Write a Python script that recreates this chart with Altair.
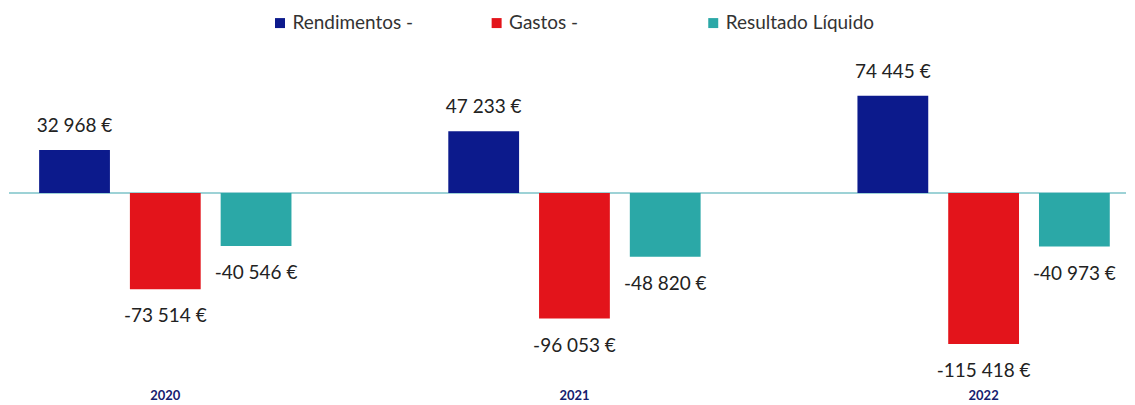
import altair as alt
import pandas as pd

years = ["2020", "2021", "2022"]
series = ["Rendimentos -", "Gastos -", "Resultado Líquido"]
rendimentos = [32968, 47233, 74445]
gastos = [-73514, -96053, -115418]
resultado = [-40546, -48820, -40973]
colors = ["#0c1a8c", "#e3141b", "#2ba8a7"]

rows = []
for i, yr in enumerate(years):
    for s, vals in zip(series, [rendimentos, gastos, resultado]):
        v = vals[i]
        rows.append({"year": yr, "series": s, "value": v,
                     "label": f"{v:,}".replace(",", " ") + " €"})
df = pd.DataFrame(rows)

x = alt.X("year:N", sort=years, title=None,
          scale=alt.Scale(paddingInner=0.37, paddingOuter=0.05, align=0.67),
          axis=alt.Axis(labelAngle=0, domain=False, ticks=False, labelPadding=16,
                        labelFont="Lato", labelFontSize=13, labelFontWeight="bold",
                        labelColor="#16206e", grid=False))
xo = alt.XOffset("series:N", sort=series,
                 scale=alt.Scale(paddingInner=0.22, paddingOuter=0.03))
y = alt.Y("value:Q", axis=None,
          scale=alt.Scale(domain=[-138170, 141220], nice=False, zero=False))

base = alt.Chart(df)

bars = base.mark_bar().encode(
    x=x, xOffset=xo, y=y,
    color=alt.Color("series:N", sort=series,
                    scale=alt.Scale(domain=series, range=colors),
                    legend=alt.Legend(orient="none", legendX=262, legendY=5,
                                      direction="horizontal",
                                      title=None, symbolType="square",
                                      symbolSize=100, symbolStrokeWidth=0,
                                      labelFont="Lato", labelFontSize=19,
                                      labelColor="#333333", labelOffset=3,
                                      gridAlign="all", columnPadding=46)),
)

rule = alt.Chart(pd.DataFrame({"value": [0]})).mark_rule(
    color="#7cc3c8", strokeWidth=1.5
).encode(y=y)

pos_text = base.transform_filter("datum.value > 0").mark_text(
    dy=-24, font="Lato", fontSize=19, color="#222222"
).encode(x=x, xOffset=xo, y=y, text="label:N")

neg_text = base.transform_filter("datum.value < 0").mark_text(
    dy=27, font="Lato", fontSize=19, color="#222222"
).encode(x=x, xOffset=xo, y=y, text="label:N")

chart = alt.layer(rule, bars, pos_text, neg_text).properties(
    width=1119, height=366, padding=0, background="white"
).configure_view(stroke=None)

chart.save("out.html", embed_options={"renderer": "svg", "actions": False})
